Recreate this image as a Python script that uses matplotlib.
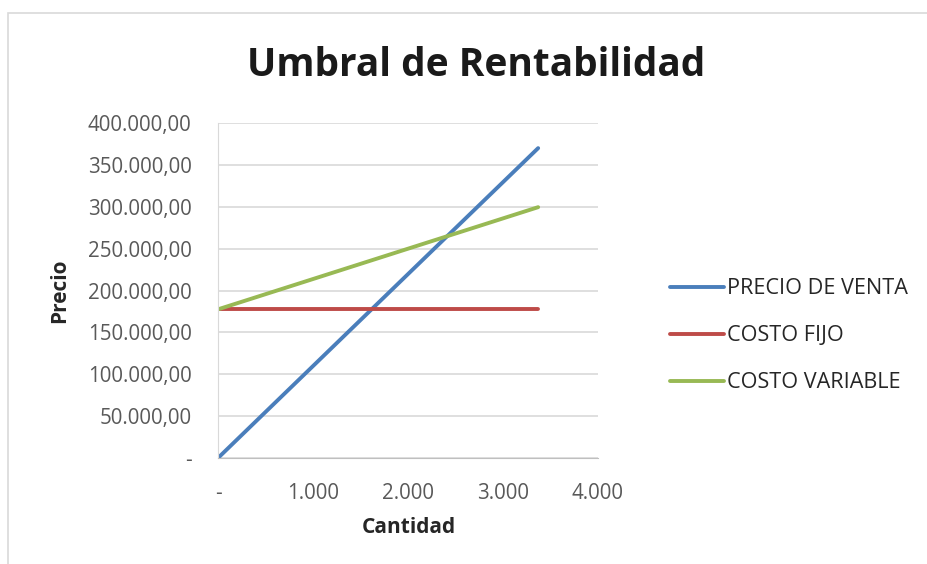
import matplotlib.pyplot as plt
import matplotlib.patches as patches
from matplotlib.ticker import FuncFormatter, MultipleLocator

# data
cantidad = [0, 3370]
precio_venta = [0, 370000]
costo_fijo = [177500, 177500]
costo_variable = [177500, 299500]

plt.rcParams['font.family'] = ['Open Sans', 'DejaVu Sans']

fig = plt.figure(figsize=(9.27, 5.64), dpi=100)
ax = fig.add_axes([218/927, 106/564, 380/927, 335/564])

ax.plot(cantidad, precio_venta, color='#4a7ebb', lw=2.8, label='PRECIO DE VENTA', solid_capstyle='round')
ax.plot(cantidad, costo_fijo, color='#be4b48', lw=2.8, label='COSTO FIJO', solid_capstyle='round')
ax.plot(cantidad, costo_variable, color='#98b954', lw=2.8, label='COSTO VARIABLE', solid_capstyle='round')

ax.set_xlim(0, 4000)
ax.set_ylim(0, 400000)
ax.xaxis.set_major_locator(MultipleLocator(1000))
ax.yaxis.set_major_locator(MultipleLocator(50000))


def fmt_y(v, pos):
    if v == 0:
        return '-'
    return f'{v:,.2f}'.replace(',', 'X').replace('.', ',').replace('X', '.')


def fmt_x(v, pos):
    if v == 0:
        return '-'
    return f'{v:,.0f}'.replace(',', '.')


ax.yaxis.set_major_formatter(FuncFormatter(fmt_y))
ax.xaxis.set_major_formatter(FuncFormatter(fmt_x))
ax.tick_params(length=0, labelsize=14.8, colors='#595959')
ax.tick_params(axis='y', pad=19)
ax.tick_params(axis='x', pad=18)
ax.grid(axis='y', color='#d9d9d9', lw=1.2)
ax.set_axisbelow(True)
for s in ['top', 'right']:
    ax.spines[s].set_visible(False)
ax.spines['left'].set_color('#d9d9d9')
ax.spines['bottom'].set_color('#bfbfbf')

ax.set_xlabel('Cantidad', fontsize=15, fontweight='bold', color='#262626')
ax.set_ylabel('Precio', fontsize=15, fontweight='bold', color='#262626')
ax.xaxis.set_label_coords(0.503, -0.176)
ax.yaxis.set_label_coords(-0.389, 0.5)

fig.text(476/927, 1 - 65/564, 'Umbral de Rentabilidad', fontsize=28, fontweight='bold',
         color='#1a1a1a', ha='center', va='center')

fig.legend(loc='center left', bbox_to_anchor=(650/927, 1 - 336/564), frameon=False,
           fontsize=15.6, labelcolor='#262626', handlelength=2.5, handletextpad=0.15,
           labelspacing=1.2)

fig.patches.append(patches.Rectangle((8/927, -0.1), 1.2, 1 - 13/564 + 0.1, transform=fig.transFigure,
                                     fill=False, edgecolor='#d9d9d9', lw=1.2))

fig.savefig('out.png', dpi=100)
